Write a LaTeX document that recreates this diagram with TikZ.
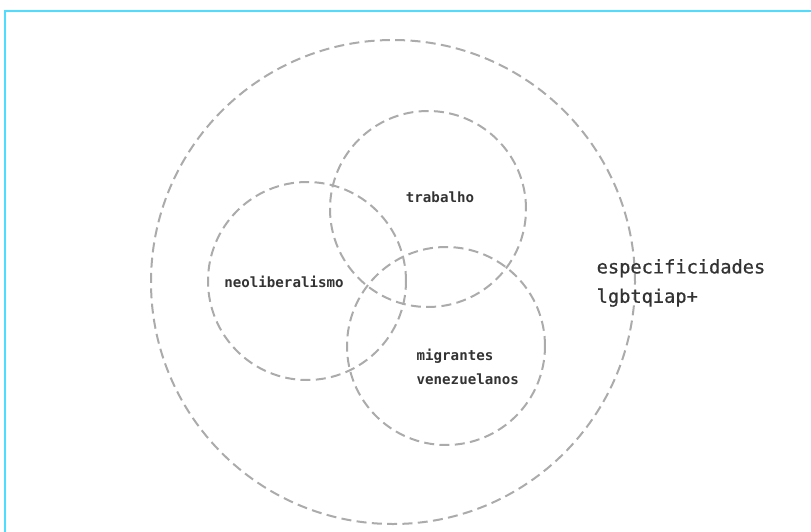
\documentclass[tikz,border=0pt]{standalone}
\usepackage{fontspec}
\usepackage{tikz}
\usetikzlibrary{positioning}
\newfontfamily\labelfont{DejaVu Sans Mono}
\newfontfamily\midfont[FakeBold=0.7]{DejaVu Sans Mono}
\definecolor{framecyan}{HTML}{4FDCFF}
\definecolor{ringgray}{HTML}{ABABAB}
\definecolor{inkgray}{HTML}{333333}

\begin{document}
\begin{tikzpicture}[x=0.75pt, y=-0.75pt,
    ring/.style={circle, draw=ringgray, line width=1.5pt, dash pattern=on 7.5pt off 4pt, inner sep=0pt},
    topic/.style={text=inkgray, font=\labelfont\bfseries\fontsize{10.6}{13}\selectfont},
    big/.style={text=inkgray, font=\midfont\fontsize{14}{22}\selectfont, align=left, anchor=west}
]
    \useasboundingbox (0,0) rectangle (811,532);
    % frame
    \draw[framecyan, line width=1.5pt] (5,532) -- (5,11) -- (811,11);

    \node[ring, minimum size=363pt] (outer) at (393,282) {};
    \node[ring, minimum size=147pt] (trab) at (428,209) {};
    \node[ring, minimum size=148.5pt] (neo) at (307,281) {};
    \node[ring, minimum size=148.5pt] (migr) at (446,346) {};

    \node[topic] (trabtxt) at (440,197) {trabalho};
    \node[topic] (neotxt) at (284,282) {neoliberalismo};
    \node[topic, align=left, anchor=west, font=\labelfont\bfseries\fontsize{10.6}{18}\selectfont] (migrtxt) at (412,367) {migrantes\\venezuelanos};
    \node[big] (lgbt) at (592,283) {especificidades\\lgbtqiap+};
\end{tikzpicture}
\end{document}
